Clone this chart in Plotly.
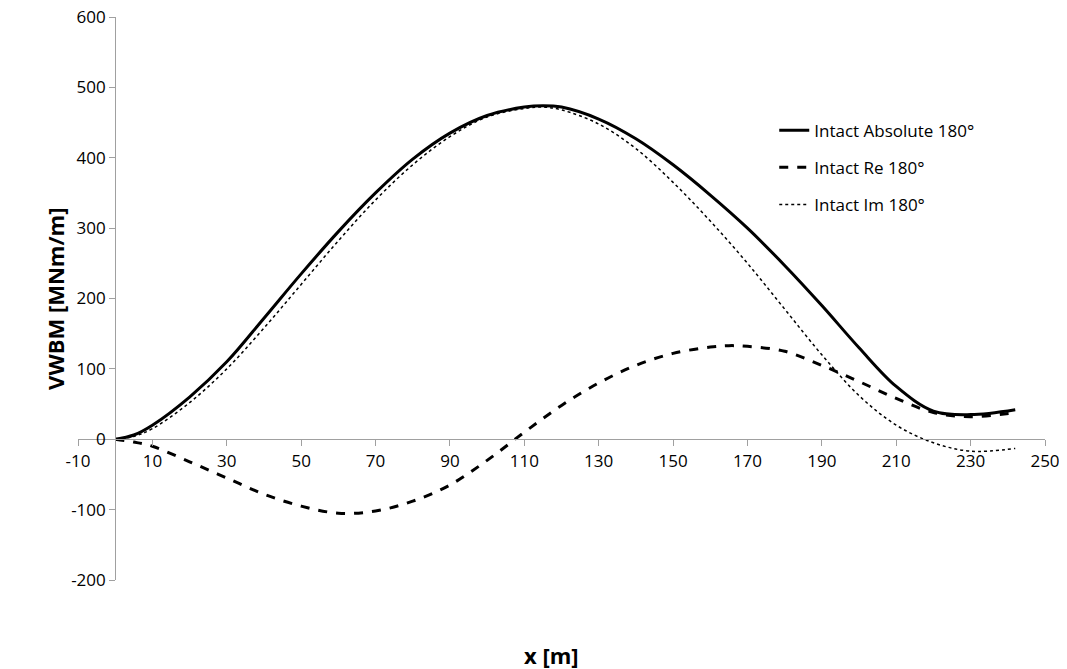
import plotly.graph_objects as go

x_abs = [0, 5, 10, 20, 30, 40, 50, 60, 70, 80, 90, 100, 110, 115, 120, 130, 140, 150, 160, 170, 180, 190, 200, 210, 220, 230, 242]
y_abs = [0, 6, 20, 60, 110, 172, 235, 295, 350, 398, 435, 460, 472, 474, 472, 455, 427, 390, 347, 300, 247, 190, 130, 75, 40, 35, 42]

x_re = [0, 5, 10, 20, 30, 40, 50, 60, 70, 80, 90, 100, 110, 120, 130, 140, 150, 160, 165, 170, 180, 190, 200, 210, 220, 230, 242]
y_re = [0, -4, -10, -32, -55, -78, -95, -105, -102, -88, -65, -30, 10, 48, 80, 105, 122, 131, 133, 132, 125, 105, 82, 58, 38, 32, 38]

x_im = [0, 5, 10, 20, 30, 40, 50, 60, 70, 80, 90, 100, 110, 115, 120, 130, 140, 150, 160, 170, 180, 190, 200, 210, 220, 230, 242]
y_im = [0, 4, 15, 52, 100, 158, 220, 282, 340, 390, 430, 458, 470, 472, 468, 448, 413, 365, 310, 250, 185, 120, 62, 20, -5, -17, -13]

x_ticks = list(range(-10, 251, 20))
y_ticks = list(range(-200, 601, 100))

fig = go.Figure()
fig.add_trace(go.Scatter(x=x_abs, y=y_abs, mode="lines", name="Intact Absolute 180°", legendgroup="a",
                         line=dict(color="black", width=3, shape="spline")))
fig.add_trace(go.Scatter(x=x_re, y=y_re, mode="lines", name="Intact Re 180°", legendgroup="b",
                         line=dict(color="black", width=3, dash="dash", shape="spline")))
fig.add_trace(go.Scatter(x=x_im, y=y_im, mode="lines", name="Intact Im 180°", legendgroup="c",
                         line=dict(color="black", width=1.5, dash="dot", shape="spline")))

font = dict(family="Open Sans, sans-serif", size=17, color="black")
fig.update_layout(
    width=1067, height=669,
    margin=dict(l=70, r=30, t=9, b=97, autoexpand=False),
    plot_bgcolor="white", paper_bgcolor="white",
    font=font,
    showlegend=True,
    legend=dict(x=0.72, y=0.83, xanchor="left", yanchor="top", bgcolor="rgba(0,0,0,0)",
                font=dict(size=17), tracegroupgap=12),
    xaxis=dict(range=[-10, 250], tickvals=x_ticks, ticktext=[str(v) for v in x_ticks],
               showgrid=False, zeroline=False, ticklabeloverflow="allow",
               showline=True, linecolor="#a0a0a0", ticks="outside", tickcolor="#a0a0a0",
               ticklen=6, anchor="free", position=0.25, automargin=False),
    yaxis=dict(range=[-200, 600], tickvals=y_ticks, ticktext=[str(v) for v in y_ticks],
               showgrid=False, zeroline=False, ticklabeloverflow="allow",
               showline=True, linecolor="#a0a0a0", ticks="outside", tickcolor="#a0a0a0",
               ticklen=6, anchor="free", position=10 / 260, automargin=False),
)
fig.add_annotation(text="<b>VWBM [MNm/m]</b>", xref="paper", yref="paper", x=-0.042, y=0.5,
                   textangle=-90, showarrow=False, font=dict(size=22))
fig.add_annotation(text="<b>x [m]</b>", xref="paper", yref="paper", x=0.49, y=-0.133,
                   yanchor="middle", showarrow=False, font=dict(size=22))

fig.write_html("out.html")
